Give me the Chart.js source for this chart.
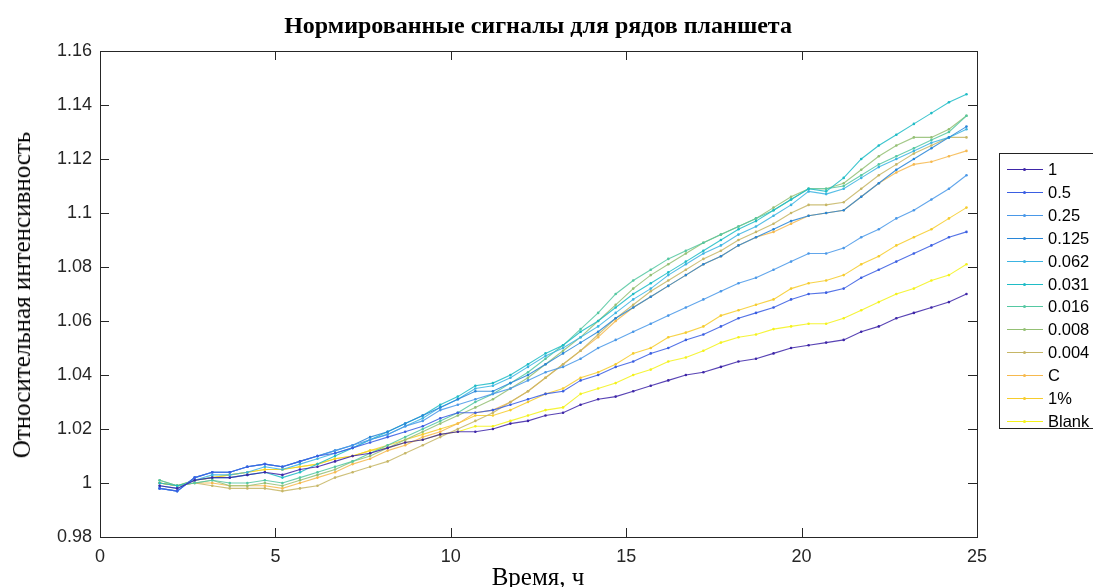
<!DOCTYPE html>
<html>
<head>
<meta charset="utf-8">
<script src="https://cdn.jsdelivr.net/npm/chart.js@4/dist/chart.umd.min.js"></script>
<style>
  html, body { margin: 0; padding: 0; background: #fff; }
  #wrap { position: relative; width: 1093px; height: 587px; overflow: hidden; }
  #chart { position: absolute; left: 0; top: 0; }
  .ttl { position: absolute; font-family: "Liberation Serif", "Times New Roman", serif; color: #000; white-space: nowrap; }
  #title { left: 0; width: 1076px; top: 12px; text-align: center; font-weight: bold; font-size: 24px; }
  #xlab { left: 0; width: 1076px; top: 563px; text-align: center; font-size: 25px; }
  #ylab { left: 22px; top: 295px; font-size: 25px; transform: translate(-50%, -50%) rotate(-90deg); }
  #legend { position: absolute; left: 999px; top: 153px; width: 110px; height: 276px; border: 1px solid #222; background: #fff; box-sizing: border-box; font-family: "Liberation Sans", Arial, sans-serif; font-size: 16.5px; }
  .row { position: absolute; left: 0; height: 20px; line-height: 20px; }
  .row i { position: absolute; left: 7px; top: 10px; width: 36px; height: 0; border-top: 1.5px solid; }
  .row b { position: absolute; left: 23px; top: 9px; width: 3px; height: 3px; border-radius: 2px; }
  .row span { position: absolute; left: 48px; top: 0; }
</style>
</head>
<body>
<div id="wrap">
  <canvas id="chart" width="1093" height="587"></canvas>
  <div id="title" class="ttl">Нормированные сигналы для рядов планшета</div>
  <div id="xlab" class="ttl">Время, ч</div>
  <div id="ylab" class="ttl">Относительная интенсивность</div>
  <div id="legend"></div>
</div>
<script>
const hours = [1.7, 2.2, 2.7, 3.2, 3.7, 4.2, 4.7, 5.2, 5.7, 6.2, 6.7, 7.2, 7.7, 8.2, 8.7, 9.2,
               9.7, 10.2, 10.7, 11.2, 11.7, 12.2, 12.7, 13.2, 13.7, 14.2, 14.7, 15.2, 15.7, 16.2,
               16.7, 17.2, 17.7, 18.2, 18.7, 19.2, 19.7, 20.2, 20.7, 21.2, 21.7, 22.2, 22.7, 23.2,
               23.7, 24.2, 24.7];

const seriesNames = ['1', '0.5', '0.25', '0.125', '0.062', '0.031', '0.016', '0.008', '0.004', 'C', '1%', 'Blank'];

const s1 = [0.999, 0.998, 1.001, 1.002, 1.002, 1.003, 1.004, 1.003, 1.005, 1.006, 1.008, 1.010, 1.011, 1.013, 1.015, 1.016,
            1.018, 1.019, 1.019, 1.020, 1.022, 1.023, 1.025, 1.026, 1.029, 1.031, 1.032, 1.034, 1.036, 1.038,
            1.040, 1.041, 1.043, 1.045, 1.046, 1.048, 1.050, 1.051, 1.052, 1.053, 1.056, 1.058, 1.061, 1.063,
            1.065, 1.067, 1.070];
const s05 = [0.998, 0.997, 1.002, 1.004, 1.004, 1.006, 1.007, 1.006, 1.008, 1.010, 1.011, 1.013, 1.015, 1.017, 1.019, 1.021,
             1.024, 1.026, 1.026, 1.027, 1.029, 1.031, 1.033, 1.034, 1.038, 1.040, 1.043, 1.045, 1.048, 1.050,
             1.053, 1.055, 1.058, 1.061, 1.063, 1.065, 1.068, 1.070, 1.0705, 1.072, 1.076, 1.079, 1.082, 1.085,
             1.088, 1.091, 1.093];
const s025 = [0.998, 0.997, 1.002, 1.004, 1.004, 1.006, 1.007, 1.006, 1.008, 1.010, 1.012, 1.014, 1.016, 1.018, 1.021, 1.023,
              1.027, 1.029, 1.031, 1.033, 1.035, 1.038, 1.041, 1.043, 1.046, 1.050, 1.053, 1.056, 1.059, 1.062,
              1.065, 1.068, 1.071, 1.074, 1.076, 1.079, 1.082, 1.085, 1.085, 1.087, 1.091, 1.094, 1.098, 1.101,
              1.105, 1.109, 1.114];
const s0125 = [0.998, 0.997, 1.002, 1.004, 1.004, 1.006, 1.007, 1.006, 1.008, 1.010, 1.012, 1.014, 1.017, 1.019, 1.022, 1.025,
               1.028, 1.031, 1.034, 1.034, 1.037, 1.040, 1.044, 1.048, 1.052, 1.056, 1.061, 1.065, 1.069, 1.073,
               1.077, 1.081, 1.084, 1.088, 1.091, 1.094, 1.097, 1.099, 1.100, 1.101, 1.106, 1.111, 1.116, 1.120,
               1.124, 1.128, 1.132];
const s0062 = [0.999, 0.998, 1.001, 1.003, 1.003, 1.004, 1.006, 1.005, 1.007, 1.009, 1.011, 1.013, 1.016, 1.018, 1.021, 1.024,
               1.028, 1.031, 1.035, 1.036, 1.039, 1.043, 1.047, 1.050, 1.054, 1.058, 1.063, 1.068, 1.072, 1.077,
               1.081, 1.085, 1.088, 1.092, 1.095, 1.099, 1.103, 1.108, 1.107, 1.109, 1.113, 1.117, 1.120, 1.123,
               1.126, 1.128, 1.131];
const s0031 = [1.000, 0.999, 1.001, 1.002, 1.002, 1.003, 1.004, 1.002, 1.004, 1.007, 1.010, 1.013, 1.016, 1.019, 1.022, 1.025,
               1.029, 1.032, 1.036, 1.037, 1.040, 1.044, 1.048, 1.051, 1.056, 1.060, 1.065, 1.070, 1.074, 1.078,
               1.082, 1.086, 1.090, 1.094, 1.097, 1.101, 1.105, 1.109, 1.108, 1.113, 1.120, 1.125, 1.129, 1.133,
               1.137, 1.141, 1.144];
const s0016 = [1.001, 0.999, 1.000, 1.001, 1.000, 1.000, 1.001, 1.000, 1.002, 1.004, 1.006, 1.008, 1.011, 1.014, 1.017, 1.020,
               1.023, 1.026, 1.030, 1.033, 1.037, 1.041, 1.046, 1.051, 1.057, 1.063, 1.070, 1.075, 1.079, 1.083,
               1.086, 1.089, 1.092, 1.095, 1.098, 1.101, 1.105, 1.109, 1.109, 1.110, 1.114, 1.118, 1.121, 1.124,
               1.127, 1.130, 1.136];
const s0008 = [1.001, 0.999, 1.000, 1.001, 0.999, 0.999, 1.000, 0.999, 1.001, 1.003, 1.005, 1.008, 1.010, 1.013, 1.016, 1.019,
               1.022, 1.025, 1.028, 1.031, 1.035, 1.039, 1.044, 1.049, 1.054, 1.060, 1.066, 1.072, 1.077, 1.081,
               1.085, 1.089, 1.092, 1.095, 1.098, 1.102, 1.106, 1.109, 1.109, 1.111, 1.116, 1.121, 1.125, 1.128,
               1.128, 1.131, 1.136];
const s0004 = [1.000, 0.999, 1.000, 0.999, 0.998, 0.998, 0.998, 0.997, 0.998, 0.999, 1.002, 1.004, 1.006, 1.008, 1.011, 1.014,
               1.017, 1.020, 1.023, 1.026, 1.030, 1.034, 1.039, 1.044, 1.049, 1.055, 1.061, 1.066, 1.071, 1.075,
               1.079, 1.083, 1.086, 1.090, 1.093, 1.096, 1.100, 1.103, 1.103, 1.104, 1.109, 1.114, 1.118, 1.122,
               1.125, 1.128, 1.128];
const sC = [1.000, 0.999, 1.000, 1.000, 0.999, 0.999, 0.999, 0.998, 1.000, 1.002, 1.004, 1.007, 1.009, 1.012, 1.014, 1.017,
            1.019, 1.022, 1.026, 1.027, 1.030, 1.034, 1.039, 1.044, 1.049, 1.054, 1.060, 1.065, 1.069, 1.073,
            1.077, 1.081, 1.084, 1.088, 1.091, 1.093, 1.096, 1.099, 1.100, 1.101, 1.106, 1.111, 1.115, 1.118,
            1.119, 1.121, 1.123];
const s1pct = [1.000, 0.999, 1.001, 1.002, 1.003, 1.004, 1.005, 1.005, 1.006, 1.007, 1.009, 1.010, 1.012, 1.014, 1.016, 1.018,
               1.020, 1.022, 1.025, 1.025, 1.027, 1.030, 1.033, 1.035, 1.039, 1.041, 1.044, 1.048, 1.050, 1.054,
               1.0557, 1.058, 1.062, 1.064, 1.066, 1.068, 1.072, 1.074, 1.075, 1.077, 1.081, 1.084, 1.088, 1.091,
               1.094, 1.098, 1.102];
const sBlank = [1.000, 0.999, 1.001, 1.002, 1.003, 1.004, 1.005, 1.005, 1.006, 1.007, 1.009, 1.010, 1.012, 1.013, 1.015, 1.016,
                1.018, 1.019, 1.021, 1.021, 1.023, 1.025, 1.027, 1.028, 1.033, 1.035, 1.037, 1.040, 1.042, 1.045,
                1.0465, 1.049, 1.052, 1.054, 1.055, 1.057, 1.058, 1.059, 1.059, 1.061, 1.064, 1.067, 1.070, 1.072,
                1.075, 1.077, 1.081];

const seriesValues = [s1, s05, s025, s0125, s0062, s0031, s0016, s0008, s0004, sC, s1pct, sBlank];
const seriesColors = ['#3e26a8', '#3a5ee2', '#4a98e8', '#2886d8', '#3cb4e2', '#1fbcc6',
                      '#55c8a2', '#94c074', '#c6b666', '#f6b94e', '#f6cc2c', '#f4f21a'];

const xTicks = [0, 5, 10, 15, 20, 25];
const yTicks = [0.98, 1.00, 1.02, 1.04, 1.06, 1.08, 1.10, 1.12, 1.14, 1.16];

const datasets = seriesNames.map((name, i) => ({
    label: name,
    data: hours.map((h, k) => ({ x: h, y: seriesValues[i][k] })),
    borderColor: seriesColors[i] + 'dd',
    backgroundColor: seriesColors[i],
    borderWidth: 1.1,
    pointRadius: 1.3,
    pointHoverRadius: 1.3,
    pointBorderWidth: 0,
    tension: 0
}));

// MATLAB-like box with inward ticks on all four sides
const boxTicks = {
    id: 'boxTicks',
    afterDraw(chart) {
        const { ctx, chartArea: a, scales } = chart;
        ctx.save();
        ctx.strokeStyle = '#262626';
        ctx.lineWidth = 1;
        ctx.strokeRect(a.left + 0.5, a.top + 0.5, a.right - a.left, a.bottom - a.top);
        const len = 9;
        xTicks.forEach(v => {
            const px = Math.round(scales.x.getPixelForValue(v)) + 0.5;
            ctx.beginPath();
            ctx.moveTo(px, a.bottom); ctx.lineTo(px, a.bottom - len);
            ctx.moveTo(px, a.top); ctx.lineTo(px, a.top + len);
            ctx.stroke();
        });
        yTicks.forEach(v => {
            const py = Math.round(scales.y.getPixelForValue(v)) + 0.5;
            ctx.beginPath();
            ctx.moveTo(a.left, py); ctx.lineTo(a.left + len, py);
            ctx.moveTo(a.right, py); ctx.lineTo(a.right - len, py);
            ctx.stroke();
        });
        ctx.restore();
    }
};

new Chart(document.getElementById('chart'), {
    type: 'line',
    data: { datasets },
    options: {
        responsive: false,
        animation: false,
        layout: { padding: { left: 0, right: 116, top: 51, bottom: 0 } },
        plugins: {
            legend: { display: false },
            tooltip: { enabled: false }
        },
        scales: {
            x: {
                type: 'linear',
                min: 0, max: 25,
                afterBuildTicks: s => { s.ticks = xTicks.map(v => ({ value: v })); },
                afterFit: s => { s.height = 50; },
                grid: { display: false },
                border: { display: false },
                ticks: {
                    padding: 1,
                    color: '#262626',
                    font: { family: 'Liberation Sans, Arial, sans-serif', size: 18 }
                }
            },
            y: {
                min: 0.98, max: 1.16,
                afterBuildTicks: s => { s.ticks = yTicks.map(v => ({ value: v })); },
                afterFit: s => { s.width = 100; },
                grid: { display: false },
                border: { display: false },
                ticks: {
                    padding: 0,
                    color: '#262626',
                    font: { family: 'Liberation Sans, Arial, sans-serif', size: 18 },
                    callback: v => {
                        const t = Math.round(v * 100) / 100;
                        return t === 1 ? '1' : String(t);
                    }
                }
            }
        }
    },
    plugins: [boxTicks]
});

// legend
const legend = document.getElementById('legend');
seriesNames.forEach((name, i) => {
    const row = document.createElement('div');
    row.className = 'row';
    row.style.top = (5 + i * 22.9) + 'px';
    row.innerHTML = '<i style="border-color:' + seriesColors[i] + '"></i>' +
        '<b style="background:' + seriesColors[i] + '"></b><span>' + name + '</span>';
    legend.appendChild(row);
});
</script>
</body>
</html>
